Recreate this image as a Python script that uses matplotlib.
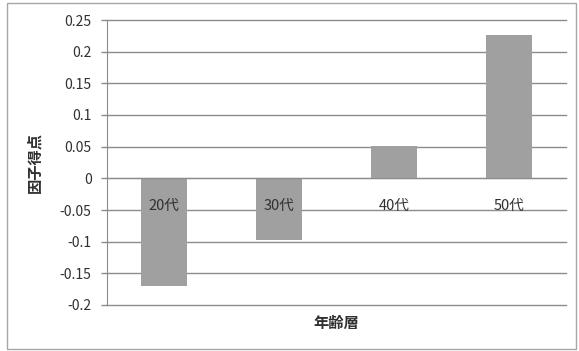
import matplotlib
matplotlib.use("Agg")
import matplotlib.pyplot as plt
from matplotlib.patches import Rectangle
from matplotlib.ticker import FuncFormatter

plt.rcParams['font.family'] = ['Noto Sans CJK JP', 'DejaVu Sans']
plt.rcParams['axes.unicode_minus'] = False

categories = ['20代', '30代', '40代', '50代']
scores = [-0.17, -0.098, 0.051, 0.226]
y_ticks = [-0.2, -0.15, -0.1, -0.05, 0, 0.05, 0.1, 0.15, 0.2, 0.25]

fig = plt.figure(figsize=(5.79, 3.51), dpi=100)
fig.patch.set_facecolor('white')

# outer chart frame
fig.patches.append(Rectangle((7 / 579, 1 - 349 / 351), 569 / 579, 346 / 351,
                             transform=fig.transFigure, fill=False,
                             edgecolor='#a6a6a6', linewidth=1.0))

ax = fig.add_axes([107 / 579, 1 - 305 / 351, 459 / 579, 285 / 351])
x = list(range(len(categories)))

# horizontal gridlines behind the bars
for yv in y_ticks:
    ax.axhline(yv, color='#8c8c8c', linewidth=1.0, zorder=0.5, clip_on=False)

ax.bar(x, scores, width=0.4, color='#a0a0a0', zorder=1)

ax.set_xlim(-0.5, len(categories) - 0.5)
ax.set_ylim(-0.2, 0.25)
ax.set_yticks(y_ticks)
ax.yaxis.set_major_formatter(FuncFormatter(lambda v, p: f"{v:g}"))
ax.set_axisbelow(False)

for s in ['top', 'right']:
    ax.spines[s].set_visible(False)
ax.spines['left'].set_color('#8c8c8c')
ax.spines['bottom'].set_position(('data', 0))
ax.spines['bottom'].set_color('#8c8c8c')

ax.set_xticks(x)
ax.set_xticklabels(categories)
ax.tick_params(axis='x', length=0, pad=15, labelsize=10.5, colors='#303030')
ax.tick_params(axis='y', length=4, width=1, color='#8c8c8c', pad=7,
               labelsize=10, labelcolor='#303030')

ax.set_xlabel('年齢層', fontsize=11, fontweight='bold', color='#303030')
ax.xaxis.set_label_coords(0.5, -0.035)
ax.set_ylabel('因子得点', fontsize=11, fontweight='bold', color='#303030')
ax.yaxis.set_label_coords(-0.14, 0.5)

fig.savefig('out.png', dpi=100, facecolor='white')
